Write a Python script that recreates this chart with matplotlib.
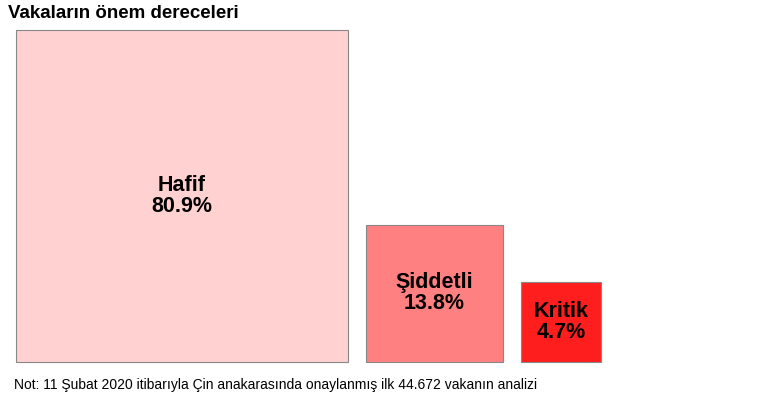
import numpy as np
import matplotlib
matplotlib.use("Agg")
import matplotlib.pyplot as plt
from matplotlib.patches import Rectangle

labels = ["Hafif", "Şiddetli", "Kritik"]
shares = [80.9, 13.8, 4.7]
colors = ["#ffd1d1", "#ff8080", "#ff1e1e"]

title = "Vakaların önem dereceleri"
note = "Not: 11 Şubat 2020 itibarıyla Çin anakarasında onaylanmış ilk 44.672 vakanın analizi"

W, H = 770, 415
fig = plt.figure(figsize=(W / 100, H / 100), dpi=100)
ax = fig.add_axes([0, 0, 1, 1])
ax.set_xlim(0, W)
ax.set_ylim(H, 0)
ax.axis("off")

# squares with area proportional to share, bottom-aligned
scale = 332 / np.sqrt(shares[0])
x0, base, gap = 16, 362, 18
for lab, v, c in zip(labels, shares, colors):
    side = scale * np.sqrt(v)
    ax.add_patch(Rectangle((x0, base - side), side, side, facecolor=c,
                           edgecolor="#888888", lw=0.8))
    ax.text(x0 + side / 2, base - side / 2, f"{lab}\n{v}%", ha="center",
            va="center", fontsize=15.5, fontweight="bold",
            family="Liberation Sans", linespacing=1.0)
    x0 += side + gap

ax.text(8, 14, title, fontsize=13.5, fontweight="bold", family="Liberation Sans",
        va="center")
ax.text(14, 385, note, fontsize=10, family="Liberation Sans", va="center")

fig.savefig("out.png", dpi=100)
